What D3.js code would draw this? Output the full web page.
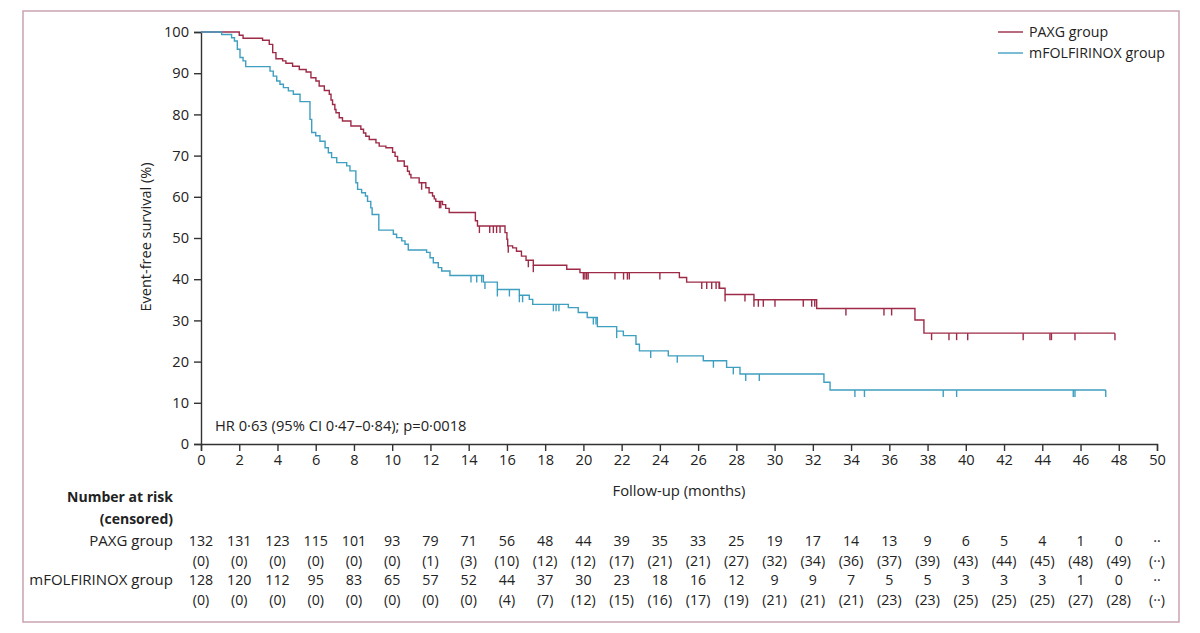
<!DOCTYPE html>
<html>
<head>
<meta charset="utf-8">
<script src="https://cdn.jsdelivr.net/npm/d3@7"></script>
<style>
  body { margin: 0; background: #fff; }
  svg { display: block; }
  text { font-family: "Open Sans", sans-serif; fill: #222; }
</style>
</head>
<body>
<script>
// Event-free survival, Kaplan-Meier steps
// ---------------------------------------------
var paxgTime = [0, 2.0, 2.2, 3.22, 3.57, 3.75, 3.92, 4.27, 4.44, 4.79, 5.14, 5.5, 5.75, 6.01, 6.18,
    6.45, 6.71, 6.8, 6.88, 7.0, 7.06, 7.23, 7.4, 7.84, 8.36, 8.5, 8.62, 8.8, 9.15, 9.32, 9.67,
    10.02, 10.15, 10.28, 10.63, 10.8, 10.9, 10.98, 11.41, 11.76, 11.93, 12.11, 12.2, 12.28, 12.63,
    12.8, 12.98, 14.35, 14.46, 15.9, 16.0, 16.04, 16.3, 16.5, 16.76, 17.0, 17.38, 19.13, 19.82,
    25.02, 25.4, 27.12, 27.41, 28.92, 32.2, 37.34, 37.81, 47.8];
var paxgSurv = [100, 99.2, 98.5, 98.0, 97.0, 95.0, 93.5, 93.0, 92.4, 91.7, 90.9, 90.3, 88.9, 88.1, 86.9,
    85.8, 84.9, 83.5, 82.4, 81.2, 80.4, 79.2, 78.4, 77.2, 76.4, 75.5, 74.7, 73.9, 73.1, 72.3, 71.9,
    70.8, 69.8, 68.7, 67.4, 66.2, 65.4, 64.6, 63.4, 62.2, 61.0, 60.2, 59.5, 58.9, 58.1,
    57.2, 56.2, 54.2, 52.9, 51.3, 49.7, 48.1, 47.6, 46.8, 45.6, 44.6, 43.4, 42.4, 41.6,
    40.4, 39.3, 37.8, 36.3, 35.0, 32.9, 30.1, 26.9, 26.9];
var paxgCensor = [11.54, 12.47, 12.54, 14.56, 15.1, 15.29, 15.46, 15.64, 16.07, 17.12, 17.38,
    20.0, 20.08, 20.17, 20.25, 21.65, 22.1, 22.3, 22.4, 24.0, 26.19, 26.45, 26.71, 26.94, 27.1,
    27.41, 28.45, 28.92, 29.15, 29.41, 30.02, 31.5, 31.94, 32.1, 33.73, 35.72, 36.12, 38.21,
    39.12, 39.52, 40.1, 43.0, 44.4, 44.48, 45.71, 47.8];

var mfolTime = [0, 1.08, 1.6, 1.75, 1.9, 2.04, 2.2, 2.34, 3.61, 3.78, 3.96, 4.13, 4.31, 4.57, 4.83,
    5.18, 5.7, 5.79, 6.0, 6.22, 6.49, 6.66, 6.83, 7.1, 7.62, 7.79, 8.1, 8.19, 8.4, 8.6, 8.71,
    8.88, 8.95, 9.3, 10.06, 10.23, 10.5, 10.67, 10.84, 11.8, 11.98, 12.15, 12.41, 12.59, 13.02,
    14.77, 15.5, 16.65, 17.17, 17.35, 19.21, 19.73, 20.2, 20.73, 21.74, 22.09, 22.75, 22.93,
    24.44, 26.27, 27.49, 28.19, 32.58, 32.9, 47.32];
var mfolSurv = [100, 99.4, 98.6, 97.8, 95.8, 93.8, 93.0, 91.6, 90.5, 89.3, 88.1, 87.3, 86.5, 85.7, 84.9,
    83.1, 78.8, 75.6, 74.8, 73.5, 71.9, 70.7, 69.5, 68.3, 67.5, 66.3, 63.4, 61.8, 61.0, 60.2, 58.9,
    57.3, 55.7, 51.9, 50.9, 50.1, 49.3, 48.5, 47.1, 46.5, 45.2, 44.0, 42.8, 42.0, 40.9,
    39.3, 37.5, 36.1, 35.1, 33.9, 33.1, 31.9, 30.7, 28.5, 27.4, 26.3, 24.2, 22.6,
    21.4, 20.2, 18.6, 17.0, 15.0, 13.1, 13.1];
var mfolCensor = [14.12, 14.42, 14.68, 14.85, 15.5, 16.13, 16.65, 16.82, 18.43, 18.57, 18.72,
    20.52, 20.66, 21.74, 23.52, 24.91, 26.8, 27.84, 28.49, 29.2, 34.2, 34.7, 38.82, 39.52,
    45.62, 45.71, 47.32];

// Number at risk table
var riskTimes = d3.range(0, 52, 2);
var paxgRisk = ['132', '131', '123', '115', '101', '93', '79', '71', '56', '48', '44', '39', '35',
    '33', '25', '19', '17', '14', '13', '9', '6', '5', '4', '1', '0', '··'];
var paxgCens = ['(0)', '(0)', '(0)', '(0)', '(0)', '(0)', '(1)', '(3)', '(10)', '(12)', '(12)', '(17)', '(21)',
    '(21)', '(27)', '(32)', '(34)', '(36)', '(37)', '(39)', '(43)', '(44)', '(45)', '(48)', '(49)', '(··)'];
var mfolRisk = ['128', '120', '112', '95', '83', '65', '57', '52', '44', '37', '30', '23', '18',
    '16', '12', '9', '9', '7', '5', '5', '3', '3', '3', '1', '0', '··'];
var mfolCens = ['(0)', '(0)', '(0)', '(0)', '(0)', '(0)', '(0)', '(0)', '(4)', '(7)', '(12)', '(15)', '(16)',
    '(17)', '(19)', '(21)', '(21)', '(21)', '(23)', '(23)', '(25)', '(25)', '(25)', '(27)', '(28)', '(··)'];

var xTicks = d3.range(0, 52, 2);
var yTicks = d3.range(0, 110, 10);

var w = 1200;
var h = 633;
var red = '#9d2a47';
var blue = '#3f9fc0';

var svg = d3.select('body').append('svg').attr('width', w).attr('height', h);

// outer frame
svg.append('rect').attr('x', 23).attr('y', 11).attr('width', 1156).attr('height', 611)
    .attr('fill', 'none').attr('stroke', '#c9a3ae').attr('stroke-width', 1.5);

var x = d3.scaleLinear().domain([0, 50]).range([201, 1157]);
var y = d3.scaleLinear().domain([0, 100]).range([444, 32]);

var xAxis = svg.append('g').attr('transform', 'translate(0,444)')
    .call(d3.axisBottom(x).tickValues(xTicks).tickSize(7).tickPadding(4).tickFormat(d3.format('d')));
var yAxis = svg.append('g').attr('transform', 'translate(201,0)')
    .call(d3.axisLeft(y).tickValues(yTicks).tickSize(7).tickPadding(5).tickFormat(d3.format('d')));

[xAxis, yAxis].forEach(function(g) {
    g.select('.domain').attr('stroke', '#333').attr('stroke-width', 1.4);
    g.selectAll('.tick line').attr('stroke', '#333').attr('stroke-width', 1.4);
    g.selectAll('.tick text').attr('font-size', '14.6px').attr('fill', '#222')
        .attr('font-family', '"Open Sans", sans-serif');
});

svg.append('text').text('Event-free survival (%)')
    .attr('transform', 'translate(151,237) rotate(-90)')
    .attr('text-anchor', 'middle').attr('font-size', '14.5px');

svg.append('text').text('Follow-up (months)')
    .attr('x', 679).attr('y', 496)
    .attr('text-anchor', 'middle').attr('font-size', '14.8px');

svg.append('text').text('HR 0·63 (95% CI 0·47–0·84); p=0·0018')
    .attr('x', 215).attr('y', 431).attr('font-size', '14.7px');

// step curves
var line = d3.line()
    .x(function(d) { return x(d[0]); })
    .y(function(d) { return y(d[1]); })
    .curve(d3.curveStepAfter);

function survAt(times, surv, t) {
    var i = d3.bisectRight(times, t) - 1;
    return surv[Math.max(i, 0)];
}

var groups = [
    { time: paxgTime, surv: paxgSurv, censor: paxgCensor, color: red },
    { time: mfolTime, surv: mfolSurv, censor: mfolCensor, color: blue }
];

groups.forEach(function(g) {
    svg.append('path')
        .datum(d3.zip(g.time, g.surv))
        .attr('d', line)
        .attr('fill', 'none')
        .attr('stroke', g.color)
        .attr('stroke-width', 1.4);

    svg.selectAll(null).data(g.censor).enter().append('line')
        .attr('x1', function(d) { return x(d); })
        .attr('x2', function(d) { return x(d); })
        .attr('y1', function(d) { return y(survAt(g.time, g.surv, d)); })
        .attr('y2', function(d) { return y(survAt(g.time, g.surv, d)) + 7; })
        .attr('stroke', g.color)
        .attr('stroke-width', 1.4);
});

// legend
var legend = [['PAXG group', red], ['mFOLFIRINOX group', blue]];
legend.forEach(function(d, i) {
    var ly = 32 + i * 21;
    svg.append('line').attr('x1', 998).attr('x2', 1023).attr('y1', ly).attr('y2', ly)
        .attr('stroke', d[1]).attr('stroke-width', 1.4);
    svg.append('text').text(d[0]).attr('x', 1029).attr('y', ly + 5).attr('font-size', '14.2px');
});

// risk table
svg.append('text').text('Number at risk').attr('x', 173).attr('y', 502)
    .attr('text-anchor', 'end').attr('font-size', '14px').attr('font-weight', 'bold');
svg.append('text').text('(censored)').attr('x', 173).attr('y', 524)
    .attr('text-anchor', 'end').attr('font-size', '14px').attr('font-weight', 'bold');

var rows = [
    { label: 'PAXG group', vals: paxgRisk, yy: 546 },
    { label: null, vals: paxgCens, yy: 565.5 },
    { label: 'mFOLFIRINOX group', vals: mfolRisk, yy: 585 },
    { label: null, vals: mfolCens, yy: 604.5 }
];

rows.forEach(function(r) {
    if (r.label) {
        svg.append('text').text(r.label).attr('x', 173).attr('y', r.yy)
            .attr('text-anchor', 'end').attr('font-size', '15px');
    }
    svg.selectAll(null).data(r.vals).enter().append('text')
        .text(function(d) { return d; })
        .attr('x', function(d, i) { return x(riskTimes[i]); })
        .attr('y', r.yy)
        .attr('text-anchor', 'middle')
        .attr('font-size', '14.2px');
});
</script>
</body>
</html>
